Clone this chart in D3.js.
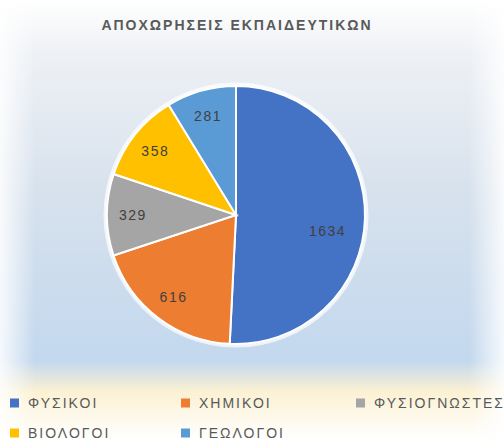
<!DOCTYPE html>
<html>
<head>
<meta charset="utf-8">
<script src="https://cdn.jsdelivr.net/npm/d3@7"></script>
<style>
  body { margin: 0; background: #fff; }
  svg { display: block; font-family: "Liberation Sans", Arial, sans-serif; }
</style>
</head>
<body>
<div id="chart"></div>
<script>
const title = "ΑΠΟΧΩΡΗΣΕΙΣ ΕΚΠΑΙΔΕΥΤΙΚΩΝ";
const categories = ["ΦΥΣΙΚΟΙ", "ΧΗΜΙΚΟΙ", "ΦΥΣΙΟΓΝΩΣΤΕΣ", "ΒΙΟΛΟΓΟΙ", "ΓΕΩΛΟΓΟΙ"];
const values = [1634, 616, 329, 358, 281];
const colors = ["#4472C4", "#ED7D31", "#A5A5A5", "#FFC000", "#5B9BD5"];

const width = 504, height = 440;
const cx = 236, cy = 215, radius = 129;

const svg = d3.select("#chart").append("svg")
    .attr("width", width)
    .attr("height", height);

// background gradient (excel style)
const defs = svg.append("defs");
const bg = defs.append("linearGradient").attr("id", "bg").attr("x1", 0).attr("y1", 0).attr("x2", 0).attr("y2", 1);
[["0%", "#ffffff"], ["12%", "#eef1f5"], ["45%", "#d6e1ed"], ["82%", "#c3d8ee"], ["89%", "#fbf1d3"], ["100%", "#ffffff"]]
    .forEach(s => bg.append("stop").attr("offset", s[0]).attr("stop-color", s[1]));
const side = defs.append("linearGradient").attr("id", "side").attr("x1", 0).attr("y1", 0).attr("x2", 1).attr("y2", 0);
[["0%", 0.85], ["7%", 0], ["93%", 0], ["100%", 0.85]]
    .forEach(s => side.append("stop").attr("offset", s[0]).attr("stop-color", "#fff").attr("stop-opacity", s[1]));

svg.append("rect").attr("width", width).attr("height", height).attr("fill", "url(#bg)");
svg.append("rect").attr("width", width).attr("height", height).attr("fill", "url(#side)");

svg.append("text")
    .attr("x", cx + 1)
    .attr("y", 30)
    .attr("text-anchor", "middle")
    .attr("fill", "#595959")
    .style("font-size", "14px")
    .style("font-weight", "bold")
    .style("letter-spacing", "2px")
    .text(title);

const pie = d3.pie().sort(null).value(d => d)(values);
const arc = d3.arc().innerRadius(0).outerRadius(radius);
const labelArc = d3.arc().innerRadius(radius * 0.8).outerRadius(radius * 0.8);

const g = svg.append("g").attr("transform", `translate(${cx},${cy})`);

g.append("circle").attr("r", radius + 2).attr("fill", "none").attr("stroke", "#ffffff").attr("stroke-opacity", 0.7).attr("stroke-width", 3);

g.selectAll("path.slice")
    .data(pie)
    .enter()
    .append("path")
    .attr("class", "slice")
    .attr("d", arc)
    .attr("fill", (d, i) => colors[i])
    .attr("stroke", "#ffffff")
    .attr("stroke-width", 2);

// the big slice's label sits a bit lower and further in (excel best fit)
g.selectAll("text.label")
    .data(pie)
    .enter()
    .append("text")
    .attr("class", "label")
    .attr("transform", d => {
        const p = (d.index == 0) ? d3.arc().innerRadius(radius * 0.72).outerRadius(radius * 0.72).startAngle(d.startAngle + 0.15).endAngle(d.endAngle + 0.15).centroid(d) : labelArc.centroid(d);
        return `translate(${p[0]},${p[1]})`;
    })
    .attr("text-anchor", "middle")
    .attr("dy", "0.36em")
    .attr("fill", "#404040")
    .style("font-size", "14px")
    .style("letter-spacing", "1.5px")
    .text(d => d.data);

// legend
const legendCols = [10, 181, 356];
const legendRows = [403, 433];
const legend = svg.append("g");
categories.forEach((c, i) => {
    const x = legendCols[i % 3], y = legendRows[Math.floor(i / 3)];
    legend.append("rect")
        .attr("x", x).attr("y", y - 4.5)
        .attr("width", 9).attr("height", 9)
        .attr("fill", colors[i]);
    legend.append("text")
        .attr("x", x + 18).attr("y", y)
        .attr("dy", "0.36em")
        .attr("fill", "#595959")
        .style("font-size", "14px")
        .style("letter-spacing", "2px")
        .text(c);
});
</script>
</body>
</html>
